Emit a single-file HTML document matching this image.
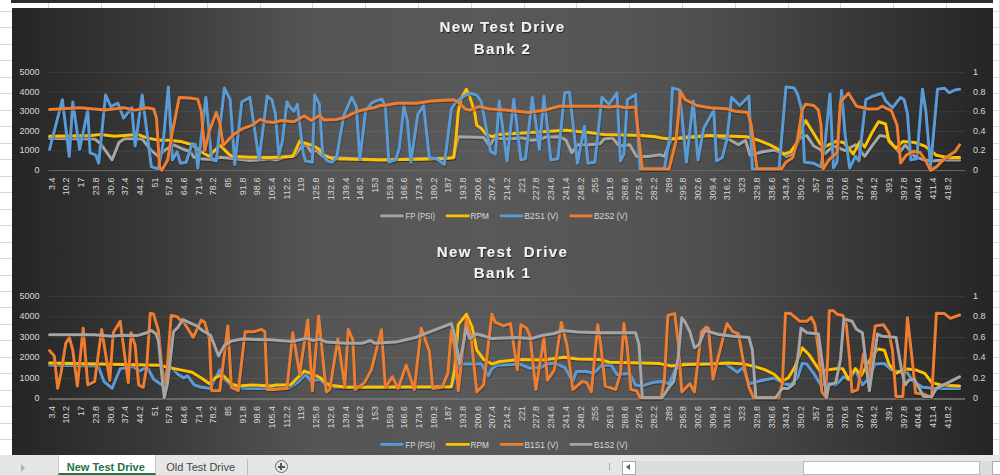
<!DOCTYPE html>
<html><head><meta charset="utf-8"><style>
html,body{margin:0;padding:0;width:1000px;height:475px;overflow:hidden;background:#fff;font-family:"Liberation Sans",sans-serif;}
.hr{position:absolute;left:0;width:1000px;height:1px;background:#dadada;}
.vr{position:absolute;top:0;height:475px;width:1px;background:#dadada;}
.ch{position:absolute;left:12px;width:980.5px;}
svg{position:absolute;left:0;top:0;}
.ax{font-family:"Liberation Sans",sans-serif;font-size:9px;fill:#d9d9d9;}
.lg{font-family:"Liberation Sans",sans-serif;font-size:9px;fill:#d9d9d9;}
.tt{font-family:"Liberation Sans",sans-serif;font-size:15px;font-weight:bold;fill:#f2f2f2;letter-spacing:1.4px;}
#tabs{position:absolute;left:0;top:455px;width:1000px;height:20px;background:#e6e6e6;font-size:11px;}
</style></head><body>
<div class="hr" style="top:11.00px"></div><div class="hr" style="top:27.47px"></div><div class="hr" style="top:43.94px"></div><div class="hr" style="top:60.41px"></div><div class="hr" style="top:76.88px"></div><div class="hr" style="top:93.35px"></div><div class="hr" style="top:109.82px"></div><div class="hr" style="top:126.29px"></div><div class="hr" style="top:142.76px"></div><div class="hr" style="top:159.23px"></div><div class="hr" style="top:175.70px"></div><div class="hr" style="top:192.17px"></div><div class="hr" style="top:208.64px"></div><div class="hr" style="top:225.11px"></div><div class="hr" style="top:241.58px"></div><div class="hr" style="top:258.05px"></div><div class="hr" style="top:274.52px"></div><div class="hr" style="top:290.99px"></div><div class="hr" style="top:307.46px"></div><div class="hr" style="top:323.93px"></div><div class="hr" style="top:340.40px"></div><div class="hr" style="top:356.87px"></div><div class="hr" style="top:373.34px"></div><div class="hr" style="top:389.81px"></div><div class="hr" style="top:406.28px"></div><div class="hr" style="top:422.75px"></div><div class="hr" style="top:439.22px"></div><div class="hr" style="top:455.69px"></div><div class="hr" style="top:472.16px"></div><div class="vr" style="left:48.30px"></div><div class="vr" style="left:101.10px"></div><div class="vr" style="left:153.90px"></div><div class="vr" style="left:206.70px"></div><div class="vr" style="left:259.50px"></div><div class="vr" style="left:312.30px"></div><div class="vr" style="left:365.10px"></div><div class="vr" style="left:417.90px"></div><div class="vr" style="left:470.70px"></div><div class="vr" style="left:523.50px"></div><div class="vr" style="left:576.30px"></div><div class="vr" style="left:629.10px"></div><div class="vr" style="left:681.90px"></div><div class="vr" style="left:734.70px"></div><div class="vr" style="left:787.50px"></div><div class="vr" style="left:840.30px"></div><div class="vr" style="left:893.10px"></div><div class="vr" style="left:945.90px"></div><div class="vr" style="left:998.70px"></div>
<div style="position:absolute;left:11px;top:0;width:982px;height:2.5px;background:#2e2e2e"></div>
<div class="ch" style="top:7.5px;height:224.5px;background:linear-gradient(to right, #252525 0%, #3a3a3a 15%, #545454 30%, #595959 48%, #555555 62%, #4f4f4f 70%, #3a3a3a 85%, #252525 100%);"></div>
<div class="ch" style="top:232px;height:223px;background:linear-gradient(to right, #252525 0%, #3a3a3a 15%, #545454 30%, #595959 48%, #555555 62%, #4f4f4f 70%, #3a3a3a 85%, #252525 100%);"></div>
<svg width="1000" height="475" viewBox="0 0 1000 475">
<defs><filter id="ts" x="-10%" y="-30%" width="120%" height="160%"><feDropShadow dx="0.8" dy="1.2" stdDeviation="0.6" flood-color="#000" flood-opacity="0.6"/></filter></defs>
<line x1="48.5" y1="72.6" x2="965" y2="72.6" stroke="#fff" stroke-opacity="0.08" stroke-width="1"/>
<line x1="48.5" y1="92.2" x2="965" y2="92.2" stroke="#fff" stroke-opacity="0.08" stroke-width="1"/>
<line x1="48.5" y1="111.8" x2="965" y2="111.8" stroke="#fff" stroke-opacity="0.08" stroke-width="1"/>
<line x1="48.5" y1="131.4" x2="965" y2="131.4" stroke="#fff" stroke-opacity="0.08" stroke-width="1"/>
<line x1="48.5" y1="151.0" x2="965" y2="151.0" stroke="#fff" stroke-opacity="0.08" stroke-width="1"/>
<line x1="48.5" y1="170.6" x2="965" y2="170.6" stroke="#6a6a6a" stroke-width="1"/>
<text x="39.5" y="75.0" class="ax" text-anchor="end">5000</text>
<text x="39.5" y="94.6" class="ax" text-anchor="end">4000</text>
<text x="39.5" y="114.2" class="ax" text-anchor="end">3000</text>
<text x="39.5" y="133.8" class="ax" text-anchor="end">2000</text>
<text x="39.5" y="153.4" class="ax" text-anchor="end">1000</text>
<text x="39.5" y="173.0" class="ax" text-anchor="end">0</text>
<text x="973" y="75.0" class="ax">1</text>
<text x="973" y="94.6" class="ax">0.8</text>
<text x="973" y="114.2" class="ax">0.6</text>
<text x="973" y="133.8" class="ax">0.4</text>
<text x="973" y="153.4" class="ax">0.2</text>
<text x="973" y="173.0" class="ax">0</text>
<text transform="translate(54.7,177.6) rotate(-90)" class="ax" text-anchor="end">3.4</text>
<text transform="translate(69.4,177.6) rotate(-90)" class="ax" text-anchor="end">10.2</text>
<text transform="translate(84.1,177.6) rotate(-90)" class="ax" text-anchor="end">17</text>
<text transform="translate(98.8,177.6) rotate(-90)" class="ax" text-anchor="end">23.8</text>
<text transform="translate(113.5,177.6) rotate(-90)" class="ax" text-anchor="end">30.6</text>
<text transform="translate(128.1,177.6) rotate(-90)" class="ax" text-anchor="end">37.4</text>
<text transform="translate(142.8,177.6) rotate(-90)" class="ax" text-anchor="end">44.2</text>
<text transform="translate(157.5,177.6) rotate(-90)" class="ax" text-anchor="end">51</text>
<text transform="translate(172.2,177.6) rotate(-90)" class="ax" text-anchor="end">57.8</text>
<text transform="translate(186.9,177.6) rotate(-90)" class="ax" text-anchor="end">64.6</text>
<text transform="translate(201.6,177.6) rotate(-90)" class="ax" text-anchor="end">71.4</text>
<text transform="translate(216.3,177.6) rotate(-90)" class="ax" text-anchor="end">78.2</text>
<text transform="translate(231.0,177.6) rotate(-90)" class="ax" text-anchor="end">85</text>
<text transform="translate(245.7,177.6) rotate(-90)" class="ax" text-anchor="end">91.8</text>
<text transform="translate(260.3,177.6) rotate(-90)" class="ax" text-anchor="end">98.6</text>
<text transform="translate(275.0,177.6) rotate(-90)" class="ax" text-anchor="end">105.4</text>
<text transform="translate(289.7,177.6) rotate(-90)" class="ax" text-anchor="end">112.2</text>
<text transform="translate(304.4,177.6) rotate(-90)" class="ax" text-anchor="end">119</text>
<text transform="translate(319.1,177.6) rotate(-90)" class="ax" text-anchor="end">125.8</text>
<text transform="translate(333.8,177.6) rotate(-90)" class="ax" text-anchor="end">132.6</text>
<text transform="translate(348.5,177.6) rotate(-90)" class="ax" text-anchor="end">139.4</text>
<text transform="translate(363.2,177.6) rotate(-90)" class="ax" text-anchor="end">146.2</text>
<text transform="translate(377.9,177.6) rotate(-90)" class="ax" text-anchor="end">153</text>
<text transform="translate(392.5,177.6) rotate(-90)" class="ax" text-anchor="end">159.8</text>
<text transform="translate(407.2,177.6) rotate(-90)" class="ax" text-anchor="end">166.6</text>
<text transform="translate(421.9,177.6) rotate(-90)" class="ax" text-anchor="end">173.4</text>
<text transform="translate(436.6,177.6) rotate(-90)" class="ax" text-anchor="end">180.2</text>
<text transform="translate(451.3,177.6) rotate(-90)" class="ax" text-anchor="end">187</text>
<text transform="translate(466.0,177.6) rotate(-90)" class="ax" text-anchor="end">193.8</text>
<text transform="translate(480.7,177.6) rotate(-90)" class="ax" text-anchor="end">200.6</text>
<text transform="translate(495.4,177.6) rotate(-90)" class="ax" text-anchor="end">207.4</text>
<text transform="translate(510.1,177.6) rotate(-90)" class="ax" text-anchor="end">214.2</text>
<text transform="translate(524.7,177.6) rotate(-90)" class="ax" text-anchor="end">221</text>
<text transform="translate(539.4,177.6) rotate(-90)" class="ax" text-anchor="end">227.8</text>
<text transform="translate(554.1,177.6) rotate(-90)" class="ax" text-anchor="end">234.6</text>
<text transform="translate(568.8,177.6) rotate(-90)" class="ax" text-anchor="end">241.4</text>
<text transform="translate(583.5,177.6) rotate(-90)" class="ax" text-anchor="end">248.2</text>
<text transform="translate(598.2,177.6) rotate(-90)" class="ax" text-anchor="end">255</text>
<text transform="translate(612.9,177.6) rotate(-90)" class="ax" text-anchor="end">261.8</text>
<text transform="translate(627.6,177.6) rotate(-90)" class="ax" text-anchor="end">268.6</text>
<text transform="translate(642.3,177.6) rotate(-90)" class="ax" text-anchor="end">275.4</text>
<text transform="translate(656.9,177.6) rotate(-90)" class="ax" text-anchor="end">282.2</text>
<text transform="translate(671.6,177.6) rotate(-90)" class="ax" text-anchor="end">289</text>
<text transform="translate(686.3,177.6) rotate(-90)" class="ax" text-anchor="end">295.8</text>
<text transform="translate(701.0,177.6) rotate(-90)" class="ax" text-anchor="end">302.6</text>
<text transform="translate(715.7,177.6) rotate(-90)" class="ax" text-anchor="end">309.4</text>
<text transform="translate(730.4,177.6) rotate(-90)" class="ax" text-anchor="end">316.2</text>
<text transform="translate(745.1,177.6) rotate(-90)" class="ax" text-anchor="end">323</text>
<text transform="translate(759.8,177.6) rotate(-90)" class="ax" text-anchor="end">329.8</text>
<text transform="translate(774.5,177.6) rotate(-90)" class="ax" text-anchor="end">336.6</text>
<text transform="translate(789.2,177.6) rotate(-90)" class="ax" text-anchor="end">343.4</text>
<text transform="translate(803.8,177.6) rotate(-90)" class="ax" text-anchor="end">350.2</text>
<text transform="translate(818.5,177.6) rotate(-90)" class="ax" text-anchor="end">357</text>
<text transform="translate(833.2,177.6) rotate(-90)" class="ax" text-anchor="end">363.8</text>
<text transform="translate(847.9,177.6) rotate(-90)" class="ax" text-anchor="end">370.6</text>
<text transform="translate(862.6,177.6) rotate(-90)" class="ax" text-anchor="end">377.4</text>
<text transform="translate(877.3,177.6) rotate(-90)" class="ax" text-anchor="end">384.2</text>
<text transform="translate(892.0,177.6) rotate(-90)" class="ax" text-anchor="end">391</text>
<text transform="translate(906.7,177.6) rotate(-90)" class="ax" text-anchor="end">397.8</text>
<text transform="translate(921.4,177.6) rotate(-90)" class="ax" text-anchor="end">404.6</text>
<text transform="translate(936.0,177.6) rotate(-90)" class="ax" text-anchor="end">411.4</text>
<text transform="translate(950.7,177.6) rotate(-90)" class="ax" text-anchor="end">418.2</text>
<polyline points="49.6,138.5 94.7,139.0 100.5,143.7 112.1,159.9 119.0,142.5 124.8,138.6 142.2,139.0 151.4,150.6 158.4,156.4 164.3,150.6 173.5,144.8 183.9,149.5 190.0,151.5 193.8,157.2 202.3,159.1 213.7,159.6 220.3,157.2 232.7,158.6 250.0,160.5 259.1,159.9 270.0,158.7 276.6,159.9 283.5,157.5 295.1,155.2 300.9,147.1 306.6,144.8 311.3,151.8 317.0,150.6 322.8,156.4 329.8,157.5 380.0,159.9 453.7,158.0 458.3,136.7 483.7,137.5 489.6,146.0 494.3,137.9 508.1,139.0 522.0,137.9 531.3,140.2 540.5,139.5 545.2,137.2 559.0,136.7 566.0,140.2 571.8,152.9 577.5,144.8 589.1,144.8 600.0,143.7 604.3,139.0 612.4,137.9 618.1,144.8 622.8,146.0 629.7,144.8 636.6,156.4 648.2,156.4 659.8,154.8 664.4,156.4 671.4,139.0 687.5,136.7 710.0,135.6 728.1,139.0 738.5,144.8 745.5,140.2 750.1,155.2 762.8,151.8 774.4,150.1 781.4,152.9 786.0,156.4 792.9,154.0 799.9,137.9 806.8,135.6 813.7,146.0 820.0,149.5 824.3,154.0 833.5,146.0 845.1,150.6 855.5,144.8 864.7,156.4 872.8,144.8 879.8,135.6 886.7,136.7 893.7,146.0 899.5,152.9 905.2,144.8 914.5,156.4 923.7,159.9 931.7,161.1 943.3,160.0 959.6,160.0" fill="none" stroke="#000" stroke-opacity="0.28" stroke-width="3.2" stroke-linejoin="round" stroke-linecap="round" transform="translate(0.5,1.1)"/>
<polyline points="49.6,138.5 94.7,139.0 100.5,143.7 112.1,159.9 119.0,142.5 124.8,138.6 142.2,139.0 151.4,150.6 158.4,156.4 164.3,150.6 173.5,144.8 183.9,149.5 190.0,151.5 193.8,157.2 202.3,159.1 213.7,159.6 220.3,157.2 232.7,158.6 250.0,160.5 259.1,159.9 270.0,158.7 276.6,159.9 283.5,157.5 295.1,155.2 300.9,147.1 306.6,144.8 311.3,151.8 317.0,150.6 322.8,156.4 329.8,157.5 380.0,159.9 453.7,158.0 458.3,136.7 483.7,137.5 489.6,146.0 494.3,137.9 508.1,139.0 522.0,137.9 531.3,140.2 540.5,139.5 545.2,137.2 559.0,136.7 566.0,140.2 571.8,152.9 577.5,144.8 589.1,144.8 600.0,143.7 604.3,139.0 612.4,137.9 618.1,144.8 622.8,146.0 629.7,144.8 636.6,156.4 648.2,156.4 659.8,154.8 664.4,156.4 671.4,139.0 687.5,136.7 710.0,135.6 728.1,139.0 738.5,144.8 745.5,140.2 750.1,155.2 762.8,151.8 774.4,150.1 781.4,152.9 786.0,156.4 792.9,154.0 799.9,137.9 806.8,135.6 813.7,146.0 820.0,149.5 824.3,154.0 833.5,146.0 845.1,150.6 855.5,144.8 864.7,156.4 872.8,144.8 879.8,135.6 886.7,136.7 893.7,146.0 899.5,152.9 905.2,144.8 914.5,156.4 923.7,159.9 931.7,161.1 943.3,160.0 959.6,160.0" fill="none" stroke="#a5a5a5" stroke-width="3" stroke-linejoin="round" stroke-linecap="round"/>
<polyline points="49.6,136.3 91.3,135.6 100.5,134.4 114.4,136.3 137.5,134.4 146.8,137.9 158.4,140.2 168.9,140.2 180.5,141.4 192.0,144.8 202.3,152.5 209.0,156.3 214.6,150.6 220.3,145.4 227.9,153.4 231.7,156.3 250.0,157.2 270.0,157.5 292.8,156.4 299.7,141.4 306.6,143.7 313.6,146.0 319.4,149.5 324.0,155.2 332.1,158.7 380.0,159.9 444.4,158.7 453.7,157.5 456.0,139.0 458.3,111.3 461.8,97.4 466.4,89.3 469.9,97.4 474.5,111.3 476.8,125.2 481.4,128.6 486.1,134.4 491.9,136.7 499.0,134.5 566.0,130.2 577.5,131.6 589.0,132.6 600.0,134.0 604.3,134.4 641.3,135.6 655.2,136.7 664.4,138.6 673.7,139.0 699.1,136.7 710.0,135.6 746.6,136.7 758.2,140.2 769.8,144.8 776.7,148.3 783.7,154.1 790.6,151.8 796.4,143.7 802.2,127.5 805.6,120.5 811.4,129.8 820.0,143.7 824.3,147.1 835.8,141.4 843.9,142.5 853.2,154.1 860.1,141.4 864.7,147.1 871.7,133.3 878.6,121.7 885.6,124.0 889.0,141.4 896.0,148.3 902.9,141.4 914.5,142.5 924.8,146.1 936.4,155.3 948.0,157.6 959.6,157.6" fill="none" stroke="#000" stroke-opacity="0.28" stroke-width="3.2" stroke-linejoin="round" stroke-linecap="round" transform="translate(0.5,1.1)"/>
<polyline points="49.6,136.3 91.3,135.6 100.5,134.4 114.4,136.3 137.5,134.4 146.8,137.9 158.4,140.2 168.9,140.2 180.5,141.4 192.0,144.8 202.3,152.5 209.0,156.3 214.6,150.6 220.3,145.4 227.9,153.4 231.7,156.3 250.0,157.2 270.0,157.5 292.8,156.4 299.7,141.4 306.6,143.7 313.6,146.0 319.4,149.5 324.0,155.2 332.1,158.7 380.0,159.9 444.4,158.7 453.7,157.5 456.0,139.0 458.3,111.3 461.8,97.4 466.4,89.3 469.9,97.4 474.5,111.3 476.8,125.2 481.4,128.6 486.1,134.4 491.9,136.7 499.0,134.5 566.0,130.2 577.5,131.6 589.0,132.6 600.0,134.0 604.3,134.4 641.3,135.6 655.2,136.7 664.4,138.6 673.7,139.0 699.1,136.7 710.0,135.6 746.6,136.7 758.2,140.2 769.8,144.8 776.7,148.3 783.7,154.1 790.6,151.8 796.4,143.7 802.2,127.5 805.6,120.5 811.4,129.8 820.0,143.7 824.3,147.1 835.8,141.4 843.9,142.5 853.2,154.1 860.1,141.4 864.7,147.1 871.7,133.3 878.6,121.7 885.6,124.0 889.0,141.4 896.0,148.3 902.9,141.4 914.5,142.5 924.8,146.1 936.4,155.3 948.0,157.6 959.6,157.6" fill="none" stroke="#ffc000" stroke-width="3" stroke-linejoin="round" stroke-linecap="round"/>
<polyline points="49.6,149.5 62.4,99.7 69.3,156.4 72.8,102.0 79.7,149.5 87.8,110.1 90.1,152.9 95.9,155.2 98.7,163.3 105.6,95.1 110.9,106.6 117.9,103.2 123.7,118.2 131.8,107.8 135.2,146.0 142.2,95.1 151.4,166.8 158.4,169.1 163.1,143.7 168.4,87.0 172.4,159.9 177.0,151.8 180.5,163.3 186.2,162.2 192.0,143.7 195.5,144.8 197.8,168.0 205.9,97.4 211.7,159.9 216.3,161.0 224.4,88.1 230.2,99.7 234.8,164.5 241.8,102.0 249.9,97.4 259.1,159.9 267.2,96.2 271.9,99.7 275.4,113.6 278.9,155.2 282.4,141.4 287.0,102.0 290.5,107.8 293.9,111.3 297.4,104.3 303.2,152.9 305.5,161.0 312.4,162.2 314.7,95.1 319.4,104.3 322.8,155.2 327.5,161.0 332.1,162.2 336.7,157.5 343.7,115.9 351.8,97.4 356.4,106.6 359.9,159.9 365.6,111.3 371.4,103.2 376.1,100.9 381.9,99.2 385.4,106.6 388.9,162.2 395.8,159.9 399.3,148.3 403.9,106.6 407.4,120.5 410.9,162.2 417.8,114.7 423.6,105.5 429.4,157.5 436.3,158.7 444.4,164.5 451.4,109.0 456.0,102.0 464.1,96.2 469.9,93.2 476.8,95.1 481.4,102.0 484.9,120.5 487.3,134.4 490.8,151.8 495.4,154.1 499.3,100.9 507.0,161.0 513.9,99.2 520.9,159.9 525.5,158.7 532.4,97.4 539.4,149.5 544.0,96.2 550.9,159.9 557.9,158.7 564.8,92.8 569.5,92.3 577.5,163.3 584.5,126.3 588.0,163.3 594.9,162.2 601.9,97.4 608.9,104.3 617.0,92.8 620.5,161.0 623.9,154.1 627.4,99.7 635.5,94.6 640.1,169.1 664.4,169.1 670.2,134.4 672.5,88.1 679.5,90.0 686.4,162.2 693.3,100.9 698.0,159.9 703.7,128.6 713.8,110.1 716.6,161.0 722.4,157.5 727.0,139.0 731.6,97.4 739.7,105.5 749.0,96.2 752.4,169.1 779.0,169.1 786.0,87.0 794.1,88.1 797.5,93.9 802.2,111.3 804.5,162.2 813.7,163.3 820.8,166.8 825.4,140.2 830.0,93.9 833.5,168.0 837.0,162.2 841.6,90.5 845.1,134.4 849.7,168.0 855.5,156.4 859.0,161.0 865.9,99.7 872.8,96.2 882.1,93.2 885.6,100.9 892.5,107.8 900.6,97.4 904.1,99.7 907.5,113.6 910.9,159.9 916.8,158.7 922.5,89.3 925.9,111.3 930.6,166.8 937.5,89.3 944.5,88.2 949.1,92.8 954.9,90.0 959.6,89.3" fill="none" stroke="#000" stroke-opacity="0.28" stroke-width="3.2" stroke-linejoin="round" stroke-linecap="round" transform="translate(0.5,1.1)"/>
<polyline points="49.6,149.5 62.4,99.7 69.3,156.4 72.8,102.0 79.7,149.5 87.8,110.1 90.1,152.9 95.9,155.2 98.7,163.3 105.6,95.1 110.9,106.6 117.9,103.2 123.7,118.2 131.8,107.8 135.2,146.0 142.2,95.1 151.4,166.8 158.4,169.1 163.1,143.7 168.4,87.0 172.4,159.9 177.0,151.8 180.5,163.3 186.2,162.2 192.0,143.7 195.5,144.8 197.8,168.0 205.9,97.4 211.7,159.9 216.3,161.0 224.4,88.1 230.2,99.7 234.8,164.5 241.8,102.0 249.9,97.4 259.1,159.9 267.2,96.2 271.9,99.7 275.4,113.6 278.9,155.2 282.4,141.4 287.0,102.0 290.5,107.8 293.9,111.3 297.4,104.3 303.2,152.9 305.5,161.0 312.4,162.2 314.7,95.1 319.4,104.3 322.8,155.2 327.5,161.0 332.1,162.2 336.7,157.5 343.7,115.9 351.8,97.4 356.4,106.6 359.9,159.9 365.6,111.3 371.4,103.2 376.1,100.9 381.9,99.2 385.4,106.6 388.9,162.2 395.8,159.9 399.3,148.3 403.9,106.6 407.4,120.5 410.9,162.2 417.8,114.7 423.6,105.5 429.4,157.5 436.3,158.7 444.4,164.5 451.4,109.0 456.0,102.0 464.1,96.2 469.9,93.2 476.8,95.1 481.4,102.0 484.9,120.5 487.3,134.4 490.8,151.8 495.4,154.1 499.3,100.9 507.0,161.0 513.9,99.2 520.9,159.9 525.5,158.7 532.4,97.4 539.4,149.5 544.0,96.2 550.9,159.9 557.9,158.7 564.8,92.8 569.5,92.3 577.5,163.3 584.5,126.3 588.0,163.3 594.9,162.2 601.9,97.4 608.9,104.3 617.0,92.8 620.5,161.0 623.9,154.1 627.4,99.7 635.5,94.6 640.1,169.1 664.4,169.1 670.2,134.4 672.5,88.1 679.5,90.0 686.4,162.2 693.3,100.9 698.0,159.9 703.7,128.6 713.8,110.1 716.6,161.0 722.4,157.5 727.0,139.0 731.6,97.4 739.7,105.5 749.0,96.2 752.4,169.1 779.0,169.1 786.0,87.0 794.1,88.1 797.5,93.9 802.2,111.3 804.5,162.2 813.7,163.3 820.8,166.8 825.4,140.2 830.0,93.9 833.5,168.0 837.0,162.2 841.6,90.5 845.1,134.4 849.7,168.0 855.5,156.4 859.0,161.0 865.9,99.7 872.8,96.2 882.1,93.2 885.6,100.9 892.5,107.8 900.6,97.4 904.1,99.7 907.5,113.6 910.9,159.9 916.8,158.7 922.5,89.3 925.9,111.3 930.6,166.8 937.5,89.3 944.5,88.2 949.1,92.8 954.9,90.0 959.6,89.3" fill="none" stroke="#5b9bd5" stroke-width="3" stroke-linejoin="round" stroke-linecap="round"/>
<polyline points="49.6,109.4 79.7,107.8 105.2,110.1 123.7,107.8 135.2,110.1 146.8,107.8 153.7,109.0 156.5,118.0 159.6,166.8 161.9,170.3 167.7,159.9 172.4,132.1 179.3,97.4 189.7,98.1 197.8,99.2 201.3,111.3 204.7,150.6 209.4,130.9 216.3,112.4 219.8,122.8 223.2,145.4 233.7,134.4 242.9,128.6 252.2,125.2 260.3,119.4 266.0,121.7 274.3,122.4 281.2,120.5 293.9,121.7 304.3,115.9 311.3,120.5 319.4,115.4 324.0,120.1 336.7,119.4 343.7,117.8 357.5,111.3 366.8,109.0 373.7,107.8 380.0,105.5 384.3,105.5 397.0,103.2 416.6,103.2 431.7,100.9 453.7,99.7 459.5,103.2 465.2,109.0 469.9,110.1 479.1,106.6 490.0,109.0 505.8,110.1 529.0,112.4 545.2,110.1 559.0,106.2 600.0,106.2 608.9,107.1 618.1,106.2 625.1,107.8 635.5,107.1 642.4,169.1 669.0,169.1 676.0,141.4 680.6,91.6 685.2,99.7 696.8,105.5 710.0,107.8 728.1,109.0 735.1,111.3 747.8,112.4 751.3,125.2 757.1,169.1 781.4,169.1 786.0,162.2 792.9,157.5 797.5,139.0 802.2,110.1 805.6,104.3 813.7,105.5 818.4,110.1 821.0,125.0 823.1,169.1 828.9,159.9 837.0,152.9 840.5,102.0 848.5,93.2 856.6,106.2 868.2,109.0 877.5,109.0 882.1,106.2 891.4,110.8 897.1,125.2 900.6,163.0 906.2,155.3 913.2,151.2 920.1,152.5 925.9,161.1 930.6,170.4 936.4,166.9 945.7,157.6 954.9,151.8 959.6,144.9" fill="none" stroke="#000" stroke-opacity="0.28" stroke-width="3.2" stroke-linejoin="round" stroke-linecap="round" transform="translate(0.5,1.1)"/>
<polyline points="49.6,109.4 79.7,107.8 105.2,110.1 123.7,107.8 135.2,110.1 146.8,107.8 153.7,109.0 156.5,118.0 159.6,166.8 161.9,170.3 167.7,159.9 172.4,132.1 179.3,97.4 189.7,98.1 197.8,99.2 201.3,111.3 204.7,150.6 209.4,130.9 216.3,112.4 219.8,122.8 223.2,145.4 233.7,134.4 242.9,128.6 252.2,125.2 260.3,119.4 266.0,121.7 274.3,122.4 281.2,120.5 293.9,121.7 304.3,115.9 311.3,120.5 319.4,115.4 324.0,120.1 336.7,119.4 343.7,117.8 357.5,111.3 366.8,109.0 373.7,107.8 380.0,105.5 384.3,105.5 397.0,103.2 416.6,103.2 431.7,100.9 453.7,99.7 459.5,103.2 465.2,109.0 469.9,110.1 479.1,106.6 490.0,109.0 505.8,110.1 529.0,112.4 545.2,110.1 559.0,106.2 600.0,106.2 608.9,107.1 618.1,106.2 625.1,107.8 635.5,107.1 642.4,169.1 669.0,169.1 676.0,141.4 680.6,91.6 685.2,99.7 696.8,105.5 710.0,107.8 728.1,109.0 735.1,111.3 747.8,112.4 751.3,125.2 757.1,169.1 781.4,169.1 786.0,162.2 792.9,157.5 797.5,139.0 802.2,110.1 805.6,104.3 813.7,105.5 818.4,110.1 821.0,125.0 823.1,169.1 828.9,159.9 837.0,152.9 840.5,102.0 848.5,93.2 856.6,106.2 868.2,109.0 877.5,109.0 882.1,106.2 891.4,110.8 897.1,125.2 900.6,163.0 906.2,155.3 913.2,151.2 920.1,152.5 925.9,161.1 930.6,170.4 936.4,166.9 945.7,157.6 954.9,151.8 959.6,144.9" fill="none" stroke="#ed7d31" stroke-width="3" stroke-linejoin="round" stroke-linecap="round"/>
<text x="502.5" y="31.9" class="tt" text-anchor="middle" filter="url(#ts)">New Test Drive</text>
<text x="502.5" y="53.5" class="tt" text-anchor="middle" filter="url(#ts)">Bank 2</text>
<line x1="381.4" y1="215.9" x2="402.3" y2="215.9" stroke="#a5a5a5" stroke-width="2.6" stroke-linecap="round"/>
<text x="405.5" y="219.1" class="lg" textLength="29.5" lengthAdjust="spacingAndGlyphs">FP (PSI)</text>
<line x1="446.9" y1="215.9" x2="468.6" y2="215.9" stroke="#ffc000" stroke-width="2.6" stroke-linecap="round"/>
<text x="470.6" y="219.1" class="lg" textLength="18.4" lengthAdjust="spacingAndGlyphs">RPM</text>
<line x1="501" y1="215.9" x2="522.4" y2="215.9" stroke="#5b9bd5" stroke-width="2.6" stroke-linecap="round"/>
<text x="524.6" y="219.1" class="lg" textLength="33.6" lengthAdjust="spacingAndGlyphs">B2S1 (V)</text>
<line x1="570.7" y1="215.9" x2="591.3" y2="215.9" stroke="#ed7d31" stroke-width="2.6" stroke-linecap="round"/>
<text x="594" y="219.1" class="lg" textLength="33.6" lengthAdjust="spacingAndGlyphs">B2S2 (V)</text>
<line x1="48.5" y1="296.4" x2="965" y2="296.4" stroke="#fff" stroke-opacity="0.08" stroke-width="1"/>
<line x1="48.5" y1="316.9" x2="965" y2="316.9" stroke="#fff" stroke-opacity="0.08" stroke-width="1"/>
<line x1="48.5" y1="337.5" x2="965" y2="337.5" stroke="#fff" stroke-opacity="0.08" stroke-width="1"/>
<line x1="48.5" y1="358.0" x2="965" y2="358.0" stroke="#fff" stroke-opacity="0.08" stroke-width="1"/>
<line x1="48.5" y1="378.5" x2="965" y2="378.5" stroke="#fff" stroke-opacity="0.08" stroke-width="1"/>
<line x1="48.5" y1="399.0" x2="965" y2="399.0" stroke="#7a7a7a" stroke-width="1.6"/>
<text x="39.5" y="298.8" class="ax" text-anchor="end">5000</text>
<text x="39.5" y="319.3" class="ax" text-anchor="end">4000</text>
<text x="39.5" y="339.9" class="ax" text-anchor="end">3000</text>
<text x="39.5" y="360.4" class="ax" text-anchor="end">2000</text>
<text x="39.5" y="380.9" class="ax" text-anchor="end">1000</text>
<text x="39.5" y="401.4" class="ax" text-anchor="end">0</text>
<text x="973" y="298.8" class="ax">1</text>
<text x="973" y="319.3" class="ax">0.8</text>
<text x="973" y="339.9" class="ax">0.6</text>
<text x="973" y="360.4" class="ax">0.4</text>
<text x="973" y="380.9" class="ax">0.2</text>
<text x="973" y="401.4" class="ax">0</text>
<text transform="translate(54.7,406) rotate(-90)" class="ax" text-anchor="end">3.4</text>
<text transform="translate(69.4,406) rotate(-90)" class="ax" text-anchor="end">10.2</text>
<text transform="translate(84.1,406) rotate(-90)" class="ax" text-anchor="end">17</text>
<text transform="translate(98.8,406) rotate(-90)" class="ax" text-anchor="end">23.8</text>
<text transform="translate(113.5,406) rotate(-90)" class="ax" text-anchor="end">30.6</text>
<text transform="translate(128.1,406) rotate(-90)" class="ax" text-anchor="end">37.4</text>
<text transform="translate(142.8,406) rotate(-90)" class="ax" text-anchor="end">44.2</text>
<text transform="translate(157.5,406) rotate(-90)" class="ax" text-anchor="end">51</text>
<text transform="translate(172.2,406) rotate(-90)" class="ax" text-anchor="end">57.8</text>
<text transform="translate(186.9,406) rotate(-90)" class="ax" text-anchor="end">64.6</text>
<text transform="translate(201.6,406) rotate(-90)" class="ax" text-anchor="end">71.4</text>
<text transform="translate(216.3,406) rotate(-90)" class="ax" text-anchor="end">78.2</text>
<text transform="translate(231.0,406) rotate(-90)" class="ax" text-anchor="end">85</text>
<text transform="translate(245.7,406) rotate(-90)" class="ax" text-anchor="end">91.8</text>
<text transform="translate(260.3,406) rotate(-90)" class="ax" text-anchor="end">98.6</text>
<text transform="translate(275.0,406) rotate(-90)" class="ax" text-anchor="end">105.4</text>
<text transform="translate(289.7,406) rotate(-90)" class="ax" text-anchor="end">112.2</text>
<text transform="translate(304.4,406) rotate(-90)" class="ax" text-anchor="end">119</text>
<text transform="translate(319.1,406) rotate(-90)" class="ax" text-anchor="end">125.8</text>
<text transform="translate(333.8,406) rotate(-90)" class="ax" text-anchor="end">132.6</text>
<text transform="translate(348.5,406) rotate(-90)" class="ax" text-anchor="end">139.4</text>
<text transform="translate(363.2,406) rotate(-90)" class="ax" text-anchor="end">146.2</text>
<text transform="translate(377.9,406) rotate(-90)" class="ax" text-anchor="end">153</text>
<text transform="translate(392.5,406) rotate(-90)" class="ax" text-anchor="end">159.8</text>
<text transform="translate(407.2,406) rotate(-90)" class="ax" text-anchor="end">166.6</text>
<text transform="translate(421.9,406) rotate(-90)" class="ax" text-anchor="end">173.4</text>
<text transform="translate(436.6,406) rotate(-90)" class="ax" text-anchor="end">180.2</text>
<text transform="translate(451.3,406) rotate(-90)" class="ax" text-anchor="end">187</text>
<text transform="translate(466.0,406) rotate(-90)" class="ax" text-anchor="end">193.8</text>
<text transform="translate(480.7,406) rotate(-90)" class="ax" text-anchor="end">200.6</text>
<text transform="translate(495.4,406) rotate(-90)" class="ax" text-anchor="end">207.4</text>
<text transform="translate(510.1,406) rotate(-90)" class="ax" text-anchor="end">214.2</text>
<text transform="translate(524.7,406) rotate(-90)" class="ax" text-anchor="end">221</text>
<text transform="translate(539.4,406) rotate(-90)" class="ax" text-anchor="end">227.8</text>
<text transform="translate(554.1,406) rotate(-90)" class="ax" text-anchor="end">234.6</text>
<text transform="translate(568.8,406) rotate(-90)" class="ax" text-anchor="end">241.4</text>
<text transform="translate(583.5,406) rotate(-90)" class="ax" text-anchor="end">248.2</text>
<text transform="translate(598.2,406) rotate(-90)" class="ax" text-anchor="end">255</text>
<text transform="translate(612.9,406) rotate(-90)" class="ax" text-anchor="end">261.8</text>
<text transform="translate(627.6,406) rotate(-90)" class="ax" text-anchor="end">268.6</text>
<text transform="translate(642.3,406) rotate(-90)" class="ax" text-anchor="end">275.4</text>
<text transform="translate(656.9,406) rotate(-90)" class="ax" text-anchor="end">282.2</text>
<text transform="translate(671.6,406) rotate(-90)" class="ax" text-anchor="end">289</text>
<text transform="translate(686.3,406) rotate(-90)" class="ax" text-anchor="end">295.8</text>
<text transform="translate(701.0,406) rotate(-90)" class="ax" text-anchor="end">302.6</text>
<text transform="translate(715.7,406) rotate(-90)" class="ax" text-anchor="end">309.4</text>
<text transform="translate(730.4,406) rotate(-90)" class="ax" text-anchor="end">316.2</text>
<text transform="translate(745.1,406) rotate(-90)" class="ax" text-anchor="end">323</text>
<text transform="translate(759.8,406) rotate(-90)" class="ax" text-anchor="end">329.8</text>
<text transform="translate(774.5,406) rotate(-90)" class="ax" text-anchor="end">336.6</text>
<text transform="translate(789.2,406) rotate(-90)" class="ax" text-anchor="end">343.4</text>
<text transform="translate(803.8,406) rotate(-90)" class="ax" text-anchor="end">350.2</text>
<text transform="translate(818.5,406) rotate(-90)" class="ax" text-anchor="end">357</text>
<text transform="translate(833.2,406) rotate(-90)" class="ax" text-anchor="end">363.8</text>
<text transform="translate(847.9,406) rotate(-90)" class="ax" text-anchor="end">370.6</text>
<text transform="translate(862.6,406) rotate(-90)" class="ax" text-anchor="end">377.4</text>
<text transform="translate(877.3,406) rotate(-90)" class="ax" text-anchor="end">384.2</text>
<text transform="translate(892.0,406) rotate(-90)" class="ax" text-anchor="end">391</text>
<text transform="translate(906.7,406) rotate(-90)" class="ax" text-anchor="end">397.8</text>
<text transform="translate(921.4,406) rotate(-90)" class="ax" text-anchor="end">404.6</text>
<text transform="translate(936.0,406) rotate(-90)" class="ax" text-anchor="end">411.4</text>
<text transform="translate(950.7,406) rotate(-90)" class="ax" text-anchor="end">418.2</text>
<polyline points="49.6,365.3 98.2,366.0 104.0,381.5 112.1,388.4 120.2,368.7 132.9,366.4 139.9,371.1 146.8,366.4 153.7,379.2 161.9,385.0 168.9,365.3 178.1,374.5 183.9,378.0 187.4,375.7 194.3,385.0 201.3,387.3 210.5,388.4 219.8,369.9 224.4,379.2 233.7,387.3 247.5,388.4 288.1,388.4 297.4,382.6 305.5,374.5 311.3,381.5 319.4,379.2 326.3,385.0 334.4,387.3 451.4,387.3 458.3,366.4 462.9,364.1 481.4,364.1 488.4,375.7 491.9,368.7 496.6,365.3 519.7,364.1 530.1,368.3 540.5,367.6 547.5,364.1 554.4,363.0 564.8,367.6 572.9,381.5 576.4,371.5 586.8,371.5 593.7,373.4 601.9,365.3 611.2,365.3 617.0,374.5 629.7,373.4 635.5,385.0 641.3,386.1 652.8,382.6 662.1,381.5 669.0,383.8 676.0,368.7 682.9,364.1 725.8,364.1 737.4,372.2 743.2,367.6 749.0,383.8 762.8,380.3 774.4,378.0 783.7,383.8 790.6,385.0 797.5,378.0 802.2,363.6 806.8,364.1 813.7,373.4 820.8,385.0 828.9,383.8 835.8,385.0 843.9,376.8 849.7,380.3 855.5,369.9 862.4,385.0 868.2,379.2 875.2,364.1 884.4,363.6 891.4,369.9 900.6,372.2 906.2,371.1 913.2,381.5 922.5,387.3 936.4,388.4 959.6,388.4" fill="none" stroke="#000" stroke-opacity="0.28" stroke-width="3.2" stroke-linejoin="round" stroke-linecap="round" transform="translate(0.5,1.1)"/>
<polyline points="49.6,365.3 98.2,366.0 104.0,381.5 112.1,388.4 120.2,368.7 132.9,366.4 139.9,371.1 146.8,366.4 153.7,379.2 161.9,385.0 168.9,365.3 178.1,374.5 183.9,378.0 187.4,375.7 194.3,385.0 201.3,387.3 210.5,388.4 219.8,369.9 224.4,379.2 233.7,387.3 247.5,388.4 288.1,388.4 297.4,382.6 305.5,374.5 311.3,381.5 319.4,379.2 326.3,385.0 334.4,387.3 451.4,387.3 458.3,366.4 462.9,364.1 481.4,364.1 488.4,375.7 491.9,368.7 496.6,365.3 519.7,364.1 530.1,368.3 540.5,367.6 547.5,364.1 554.4,363.0 564.8,367.6 572.9,381.5 576.4,371.5 586.8,371.5 593.7,373.4 601.9,365.3 611.2,365.3 617.0,374.5 629.7,373.4 635.5,385.0 641.3,386.1 652.8,382.6 662.1,381.5 669.0,383.8 676.0,368.7 682.9,364.1 725.8,364.1 737.4,372.2 743.2,367.6 749.0,383.8 762.8,380.3 774.4,378.0 783.7,383.8 790.6,385.0 797.5,378.0 802.2,363.6 806.8,364.1 813.7,373.4 820.8,385.0 828.9,383.8 835.8,385.0 843.9,376.8 849.7,380.3 855.5,369.9 862.4,385.0 868.2,379.2 875.2,364.1 884.4,363.6 891.4,369.9 900.6,372.2 906.2,371.1 913.2,381.5 922.5,387.3 936.4,388.4 959.6,388.4" fill="none" stroke="#5b9bd5" stroke-width="3" stroke-linejoin="round" stroke-linecap="round"/>
<polyline points="49.6,363.0 160.0,365.3 168.9,367.6 180.5,369.9 192.0,372.2 201.3,378.0 209.4,383.8 215.2,378.0 222.1,374.5 231.4,383.8 238.3,386.1 252.2,385.0 270.0,386.1 276.6,385.0 290.5,385.0 297.4,378.0 304.3,371.1 313.6,374.5 320.5,378.0 328.6,385.0 346.0,387.3 451.4,386.8 454.8,368.7 458.3,324.7 466.4,314.3 472.2,327.1 476.8,350.2 483.7,359.5 491.9,364.1 498.9,361.8 519.7,359.5 542.8,359.9 563.7,357.2 577.5,359.0 600.0,359.5 608.9,362.3 641.3,363.0 659.8,363.6 671.4,366.0 687.5,364.6 710.0,364.1 728.1,363.0 744.3,364.1 755.9,366.9 765.2,369.9 774.4,374.5 781.4,381.5 788.3,378.0 795.2,366.4 802.2,347.9 809.1,354.8 820.0,371.1 835.8,368.7 842.8,368.7 848.5,379.2 855.5,368.7 861.3,375.7 867.1,364.1 877.5,349.1 884.4,350.2 889.0,364.1 896.0,373.4 905.2,368.7 915.5,369.9 924.8,373.4 931.7,382.6 941.0,385.0 959.6,386.1" fill="none" stroke="#000" stroke-opacity="0.28" stroke-width="3.2" stroke-linejoin="round" stroke-linecap="round" transform="translate(0.5,1.1)"/>
<polyline points="49.6,363.0 160.0,365.3 168.9,367.6 180.5,369.9 192.0,372.2 201.3,378.0 209.4,383.8 215.2,378.0 222.1,374.5 231.4,383.8 238.3,386.1 252.2,385.0 270.0,386.1 276.6,385.0 290.5,385.0 297.4,378.0 304.3,371.1 313.6,374.5 320.5,378.0 328.6,385.0 346.0,387.3 451.4,386.8 454.8,368.7 458.3,324.7 466.4,314.3 472.2,327.1 476.8,350.2 483.7,359.5 491.9,364.1 498.9,361.8 519.7,359.5 542.8,359.9 563.7,357.2 577.5,359.0 600.0,359.5 608.9,362.3 641.3,363.0 659.8,363.6 671.4,366.0 687.5,364.6 710.0,364.1 728.1,363.0 744.3,364.1 755.9,366.9 765.2,369.9 774.4,374.5 781.4,381.5 788.3,378.0 795.2,366.4 802.2,347.9 809.1,354.8 820.0,371.1 835.8,368.7 842.8,368.7 848.5,379.2 855.5,368.7 861.3,375.7 867.1,364.1 877.5,349.1 884.4,350.2 889.0,364.1 896.0,373.4 905.2,368.7 915.5,369.9 924.8,373.4 931.7,382.6 941.0,385.0 959.6,386.1" fill="none" stroke="#ffc000" stroke-width="3" stroke-linejoin="round" stroke-linecap="round"/>
<polyline points="49.6,350.7 54.3,356.0 57.7,388.4 61.2,372.2 65.8,343.3 69.3,337.5 72.8,350.2 77.4,386.1 83.2,328.2 87.8,385.0 94.7,381.5 101.7,329.4 109.8,380.3 113.3,332.8 120.2,321.3 128.3,382.6 131.1,332.8 135.2,345.6 138.7,385.0 143.3,387.3 146.8,366.4 150.3,313.2 153.7,314.3 158.4,330.5 161.9,366.4 165.4,391.9 171.2,315.5 177.0,316.6 180.5,320.1 183.9,322.4 193.2,337.5 201.3,320.1 204.7,322.4 209.4,338.6 211.7,390.7 219.8,390.7 227.9,325.9 231.4,387.3 238.3,390.7 245.2,331.7 254.5,331.7 261.4,329.4 264.9,331.7 267.2,389.6 274.3,389.6 287.0,388.4 292.8,332.8 299.7,373.4 307.8,320.1 312.4,390.7 318.7,315.9 326.3,391.9 329.8,389.6 337.9,339.1 344.8,386.1 348.3,329.4 352.9,339.8 355.2,389.6 364.5,382.6 371.4,369.9 381.5,329.8 385.4,387.3 392.4,376.8 398.1,388.4 406.2,365.3 414.3,389.6 421.3,328.2 429.4,351.4 432.8,388.4 442.1,387.3 447.9,373.4 451.4,330.5 454.8,347.9 458.3,390.7 466.4,318.9 471.0,336.3 476.8,391.9 483.7,385.0 491.9,314.3 495.4,322.4 503.5,325.9 510.5,323.6 517.4,369.9 520.9,324.7 526.6,328.2 530.1,336.3 535.9,389.6 544.0,337.5 547.5,380.3 554.4,369.9 561.4,322.4 567.1,345.6 572.9,389.6 582.2,381.5 586.8,382.6 591.4,391.9 597.8,324.7 600.8,345.6 605.4,386.1 615.8,389.6 620.5,373.4 623.9,323.6 627.4,347.9 630.9,389.6 636.6,390.7 640.1,397.7 661.0,397.7 664.4,380.3 667.9,315.5 674.8,313.6 678.3,343.3 681.8,391.9 689.9,383.8 694.5,391.9 701.4,331.7 706.1,327.1 708.5,328.2 713.1,379.2 717.7,359.5 722.4,341.0 727.0,323.6 732.8,331.7 738.5,334.0 744.3,366.4 749.0,387.3 753.6,397.7 779.0,397.7 782.5,382.6 785.5,313.2 790.6,313.6 799.9,321.3 806.8,321.3 811.4,317.3 814.9,324.7 818.5,350.2 821.9,391.9 825.4,396.5 827.7,359.5 829.3,310.8 833.5,310.8 837.0,314.3 842.8,315.5 846.2,323.6 849.7,359.5 852.0,391.9 857.8,389.6 863.6,353.7 868.2,379.2 875.2,325.9 883.3,324.7 889.0,332.8 892.5,350.2 896.0,396.5 902.9,396.5 907.5,317.8 912.2,359.5 915.6,393.1 923.7,394.2 931.7,397.7 936.4,313.2 944.5,313.6 950.3,318.3 959.6,315.0" fill="none" stroke="#000" stroke-opacity="0.28" stroke-width="3.2" stroke-linejoin="round" stroke-linecap="round" transform="translate(0.5,1.1)"/>
<polyline points="49.6,350.7 54.3,356.0 57.7,388.4 61.2,372.2 65.8,343.3 69.3,337.5 72.8,350.2 77.4,386.1 83.2,328.2 87.8,385.0 94.7,381.5 101.7,329.4 109.8,380.3 113.3,332.8 120.2,321.3 128.3,382.6 131.1,332.8 135.2,345.6 138.7,385.0 143.3,387.3 146.8,366.4 150.3,313.2 153.7,314.3 158.4,330.5 161.9,366.4 165.4,391.9 171.2,315.5 177.0,316.6 180.5,320.1 183.9,322.4 193.2,337.5 201.3,320.1 204.7,322.4 209.4,338.6 211.7,390.7 219.8,390.7 227.9,325.9 231.4,387.3 238.3,390.7 245.2,331.7 254.5,331.7 261.4,329.4 264.9,331.7 267.2,389.6 274.3,389.6 287.0,388.4 292.8,332.8 299.7,373.4 307.8,320.1 312.4,390.7 318.7,315.9 326.3,391.9 329.8,389.6 337.9,339.1 344.8,386.1 348.3,329.4 352.9,339.8 355.2,389.6 364.5,382.6 371.4,369.9 381.5,329.8 385.4,387.3 392.4,376.8 398.1,388.4 406.2,365.3 414.3,389.6 421.3,328.2 429.4,351.4 432.8,388.4 442.1,387.3 447.9,373.4 451.4,330.5 454.8,347.9 458.3,390.7 466.4,318.9 471.0,336.3 476.8,391.9 483.7,385.0 491.9,314.3 495.4,322.4 503.5,325.9 510.5,323.6 517.4,369.9 520.9,324.7 526.6,328.2 530.1,336.3 535.9,389.6 544.0,337.5 547.5,380.3 554.4,369.9 561.4,322.4 567.1,345.6 572.9,389.6 582.2,381.5 586.8,382.6 591.4,391.9 597.8,324.7 600.8,345.6 605.4,386.1 615.8,389.6 620.5,373.4 623.9,323.6 627.4,347.9 630.9,389.6 636.6,390.7 640.1,397.7 661.0,397.7 664.4,380.3 667.9,315.5 674.8,313.6 678.3,343.3 681.8,391.9 689.9,383.8 694.5,391.9 701.4,331.7 706.1,327.1 708.5,328.2 713.1,379.2 717.7,359.5 722.4,341.0 727.0,323.6 732.8,331.7 738.5,334.0 744.3,366.4 749.0,387.3 753.6,397.7 779.0,397.7 782.5,382.6 785.5,313.2 790.6,313.6 799.9,321.3 806.8,321.3 811.4,317.3 814.9,324.7 818.5,350.2 821.9,391.9 825.4,396.5 827.7,359.5 829.3,310.8 833.5,310.8 837.0,314.3 842.8,315.5 846.2,323.6 849.7,359.5 852.0,391.9 857.8,389.6 863.6,353.7 868.2,379.2 875.2,325.9 883.3,324.7 889.0,332.8 892.5,350.2 896.0,396.5 902.9,396.5 907.5,317.8 912.2,359.5 915.6,393.1 923.7,394.2 931.7,397.7 936.4,313.2 944.5,313.6 950.3,318.3 959.6,315.0" fill="none" stroke="#ed7d31" stroke-width="3" stroke-linejoin="round" stroke-linecap="round"/>
<polyline points="49.6,334.7 93.6,334.7 112.1,336.3 121.4,335.2 137.5,335.6 146.8,332.8 151.4,330.5 156.1,334.0 158.5,341.0 161.9,375.7 164.3,397.7 167.7,382.6 173.5,331.7 178.1,327.1 182.8,319.6 196.6,325.9 202.4,330.5 210.5,335.2 218.6,356.0 224.4,345.6 231.4,341.0 242.9,339.1 270.0,339.8 292.8,341.4 306.6,338.2 313.6,340.5 319.4,339.1 326.3,342.1 346.0,343.3 362.2,343.3 370.3,340.5 375.0,343.3 395.8,342.1 415.5,337.5 430.5,331.7 442.1,327.1 451.4,323.6 454.8,335.2 459.5,364.1 466.4,328.2 469.9,338.6 476.8,334.0 485.0,336.3 491.9,338.6 515.1,337.5 531.3,338.6 542.8,335.2 554.4,333.5 562.5,330.5 577.5,332.1 600.0,332.8 618.1,332.8 635.5,332.8 639.0,344.4 642.4,397.7 662.1,397.7 669.0,387.3 673.7,381.5 678.3,357.2 681.8,317.8 685.2,322.4 689.9,331.7 694.5,347.9 699.1,344.4 704.9,330.5 718.9,334.5 732.8,336.3 749.0,337.5 752.4,350.2 755.9,397.7 775.6,397.7 782.5,388.4 788.3,388.4 794.1,383.8 798.7,350.2 801.0,328.2 806.8,332.8 818.5,334.0 823.1,368.7 826.6,397.7 828.9,385.0 835.8,382.6 840.5,359.5 843.9,318.9 852.0,321.3 856.6,329.4 862.4,332.8 869.4,390.7 877.5,334.0 882.1,336.3 896.0,337.5 901.8,371.1 905.2,385.0 908.6,380.3 914.3,379.2 923.6,396.5 931.7,396.5 936.4,388.4 945.7,383.8 952.6,380.3 959.6,376.8" fill="none" stroke="#000" stroke-opacity="0.28" stroke-width="3.2" stroke-linejoin="round" stroke-linecap="round" transform="translate(0.5,1.1)"/>
<polyline points="49.6,334.7 93.6,334.7 112.1,336.3 121.4,335.2 137.5,335.6 146.8,332.8 151.4,330.5 156.1,334.0 158.5,341.0 161.9,375.7 164.3,397.7 167.7,382.6 173.5,331.7 178.1,327.1 182.8,319.6 196.6,325.9 202.4,330.5 210.5,335.2 218.6,356.0 224.4,345.6 231.4,341.0 242.9,339.1 270.0,339.8 292.8,341.4 306.6,338.2 313.6,340.5 319.4,339.1 326.3,342.1 346.0,343.3 362.2,343.3 370.3,340.5 375.0,343.3 395.8,342.1 415.5,337.5 430.5,331.7 442.1,327.1 451.4,323.6 454.8,335.2 459.5,364.1 466.4,328.2 469.9,338.6 476.8,334.0 485.0,336.3 491.9,338.6 515.1,337.5 531.3,338.6 542.8,335.2 554.4,333.5 562.5,330.5 577.5,332.1 600.0,332.8 618.1,332.8 635.5,332.8 639.0,344.4 642.4,397.7 662.1,397.7 669.0,387.3 673.7,381.5 678.3,357.2 681.8,317.8 685.2,322.4 689.9,331.7 694.5,347.9 699.1,344.4 704.9,330.5 718.9,334.5 732.8,336.3 749.0,337.5 752.4,350.2 755.9,397.7 775.6,397.7 782.5,388.4 788.3,388.4 794.1,383.8 798.7,350.2 801.0,328.2 806.8,332.8 818.5,334.0 823.1,368.7 826.6,397.7 828.9,385.0 835.8,382.6 840.5,359.5 843.9,318.9 852.0,321.3 856.6,329.4 862.4,332.8 869.4,390.7 877.5,334.0 882.1,336.3 896.0,337.5 901.8,371.1 905.2,385.0 908.6,380.3 914.3,379.2 923.6,396.5 931.7,396.5 936.4,388.4 945.7,383.8 952.6,380.3 959.6,376.8" fill="none" stroke="#a5a5a5" stroke-width="3" stroke-linejoin="round" stroke-linecap="round"/>
<text x="502.5" y="256.6" class="tt" text-anchor="middle" filter="url(#ts)">New Test  Drive</text>
<text x="502.5" y="278.2" class="tt" text-anchor="middle" filter="url(#ts)">Bank 1</text>
<line x1="381.4" y1="444.4" x2="402.3" y2="444.4" stroke="#5b9bd5" stroke-width="2.6" stroke-linecap="round"/>
<text x="405.5" y="447.6" class="lg" textLength="29.5" lengthAdjust="spacingAndGlyphs">FP (PSI)</text>
<line x1="446.9" y1="444.4" x2="468.6" y2="444.4" stroke="#ffc000" stroke-width="2.6" stroke-linecap="round"/>
<text x="470.6" y="447.6" class="lg" textLength="18.4" lengthAdjust="spacingAndGlyphs">RPM</text>
<line x1="501" y1="444.4" x2="522.4" y2="444.4" stroke="#ed7d31" stroke-width="2.6" stroke-linecap="round"/>
<text x="524.6" y="447.6" class="lg" textLength="33.6" lengthAdjust="spacingAndGlyphs">B1S1 (V)</text>
<line x1="570.7" y1="444.4" x2="591.3" y2="444.4" stroke="#a5a5a5" stroke-width="2.6" stroke-linecap="round"/>
<text x="594" y="447.6" class="lg" textLength="33.6" lengthAdjust="spacingAndGlyphs">B1S2 (V)</text>
</svg>
<div id="tabs">
  <div style="position:absolute;left:21px;top:9px;width:0;height:0;border-left:4px solid #b0b0b0;border-top:4px solid transparent;border-bottom:4px solid transparent;"></div>
  <div style="position:absolute;left:57.5px;top:0;width:96px;height:18px;background:#fff;border-left:1px solid #c8c8c8;border-right:1px solid #c8c8c8;border-bottom:2px solid #217346;"></div>
  <div style="position:absolute;left:66.8px;top:5.5px;font-weight:bold;color:#217346;white-space:nowrap;">New Test Drive</div>
  <div style="position:absolute;left:166.2px;top:5.5px;color:#444;white-space:nowrap;">Old Test Drive</div>
  <div style="position:absolute;left:247px;top:4px;width:1px;height:16px;background:#bdbdbd"></div>
  <div style="position:absolute;left:275px;top:5px;width:11px;height:11px;border:1px solid #666;border-radius:50%;"></div>
  <div style="position:absolute;left:277.5px;top:11px;width:7px;height:1.5px;background:#555"></div>
  <div style="position:absolute;left:280.3px;top:8.2px;width:1.5px;height:7px;background:#555"></div>
  <div style="position:absolute;left:608.5px;top:8px;width:1.5px;height:1.5px;background:#999;box-shadow:0 2.5px 0 #999,0 5px 0 #999"></div>
  <div style="position:absolute;left:622px;top:6px;width:12px;height:12px;background:#fff;border:1px solid #aaa;"></div>
  <div style="position:absolute;left:626px;top:9px;width:0;height:0;border-right:4px solid #606060;border-top:3.5px solid transparent;border-bottom:3.5px solid transparent;"></div>
  <div style="position:absolute;left:636px;top:6px;width:356px;height:14px;background:#dcdcdc;"></div>
  <div style="position:absolute;left:803px;top:6px;width:175px;height:12px;background:#fff;border:1px solid #b8b8b8;"></div>
  <div style="position:absolute;left:992px;top:6px;width:12px;height:12px;background:#fff;border:1px solid #aaa;"></div>
</div>
</body></html>
